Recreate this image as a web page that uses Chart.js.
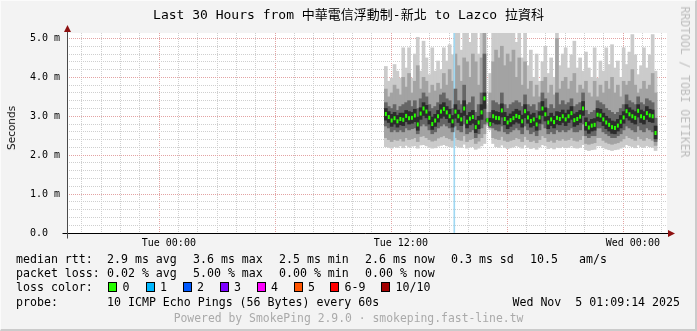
<!DOCTYPE html>
<html>
<head>
<meta charset="utf-8">
<title>Last 30 Hours from 中華電信浮動制-新北 to Lazco 拉資科</title>
<script src="https://cdn.jsdelivr.net/npm/chart.js@4.4.1/dist/chart.umd.min.js"></script>
<style>
  html, body { margin: 0; padding: 0; }
  body { width: 697px; height: 331px; overflow: hidden; background: #f3f3f3; }
  #wrap { position: relative; width: 697px; height: 331px; }
  #frame { position: absolute; left: 0; top: 0; width: 697px; height: 331px; box-sizing: border-box;
           border-right: 2px solid #cbcbcb; border-bottom: 2px solid #cbcbcb;
           border-top: 1px solid #fbfbfb; border-left: 1px solid #fbfbfb; pointer-events: none; }
  canvas { position: absolute; left: 0; top: 0; }
  .t { position: absolute; white-space: pre; font-family: "DejaVu Sans Mono", monospace;
       font-size: 11.6px; line-height: 14px; color: #000; }
  #title { left: 0; width: 697px; top: 7px; text-align: center; font-size: 13px; line-height: 16px;
           font-family: "DejaVu Sans Mono", "Noto Sans CJK TC", monospace; }
  #ylab { left: 10.5px; top: 127.5px; transform: translate(-50%, -50%) rotate(-90deg);
          font-family: "DejaVu Sans", sans-serif; font-size: 10.5px; line-height: 12px; color: #111; }
  #side { left: 685px; top: 81.5px; transform: translate(-50%, -50%) rotate(90deg);
          font-size: 11.4px; color: #bdbdbd; }
  #footer { left: 0; width: 697px; top: 311px; text-align: center; color: #aaaaaa; font-size: 11.4px; }
  .box { position: absolute; top: 282px; width: 9px; height: 10px; box-sizing: border-box; border: 1px solid #000; }
</style>
</head>
<body>
<div id="wrap">
  <canvas id="smoke" width="697" height="331"></canvas>
  <div class="t" id="title">Last 30 Hours from 中華電信浮動制-新北 to Lazco 拉資科</div>
  <div class="t" id="ylab">Seconds</div>
  <div class="t" id="side">RRDTOOL / TOBI OETIKER</div>

  <div class="t" style="left:16px;top:252px">median rtt:</div>
  <div class="t" style="left:107px;top:252px">2.9 ms avg</div>
  <div class="t" style="left:193px;top:252px">3.6 ms max</div>
  <div class="t" style="left:279px;top:252px">2.5 ms min</div>
  <div class="t" style="left:365px;top:252px">2.6 ms now</div>
  <div class="t" style="left:451px;top:252px">0.3 ms sd</div>
  <div class="t" style="left:530px;top:252px">10.5</div>
  <div class="t" style="left:579px;top:252px">am/s</div>

  <div class="t" style="left:16px;top:266px">packet loss:</div>
  <div class="t" style="left:107px;top:266px">0.02 % avg</div>
  <div class="t" style="left:193px;top:266px">5.00 % max</div>
  <div class="t" style="left:279px;top:266px">0.00 % min</div>
  <div class="t" style="left:365px;top:266px">0.00 % now</div>

  <div class="t" style="left:16px;top:280px">loss color:</div>
  <div id="lossLegend"></div>

  <div class="t" style="left:16px;top:295px">probe:</div>
  <div class="t" style="left:107px;top:295px">10 ICMP Echo Pings (56 Bytes) every 60s</div>
  <div class="t" style="right:17px;top:295px">Wed Nov  5 01:09:14 2025</div>

  <div class="t" id="footer">Powered by SmokePing 2.9.0 · smokeping.fast-line.tw</div>
  <div id="frame"></div>
</div>
<script>
// samples: hours after Tue 00:00, one every 9 minutes
const sampleStartHour = 11.225;
const sampleStepHour = 0.15;

// rtt in ms
const medianRtt = [
  3.06, 2.98, 2.89, 2.95, 2.87, 2.93, 2.91, 3.01, 2.95, 2.96,
  3.02, 2.79, 3.07, 3.20, 3.12, 2.96, 2.80, 2.89, 3.00, 3.12,
  3.19, 3.10, 3.00, 2.87, 3.12, 3.00, 2.92, 3.20, 2.86, 2.94,
  2.98, 2.72, 2.84, 3.10, 3.46, 2.90, 2.80, 3.00, 2.96, 2.95,
  3.15, 2.93, 2.84, 2.90, 2.95, 3.01, 2.98, 2.87, 3.13, 2.97,
  2.88, 2.92, 2.79, 2.97, 3.20, 3.05, 2.84, 2.92, 2.85, 2.96,
  2.93, 3.00, 2.92, 3.00, 3.08, 2.90, 2.93, 2.99, 3.20, 2.80,
  2.71, 2.76, 2.78, 3.04, 3.02, 2.92, 2.84, 2.78, 2.72, 2.70,
  2.76, 2.86, 2.97, 3.13, 3.05, 3.00, 2.96, 3.14, 3.00, 2.96,
  3.08, 3.02, 3.00, 2.57
];
const smokeMax = [
  4.28, 3.90, 3.98, 4.33, 4.16, 3.98, 4.76, 4.24, 4.76, 3.98,
  4.60, 5.03, 4.16, 4.93, 4.50, 4.07, 4.76, 4.16, 4.42, 4.20,
  4.76, 4.42, 4.84, 4.58, 5.30, 5.30, 4.70, 5.30, 5.30, 4.90,
  5.30, 5.30, 4.60, 5.30, 5.30, 3.30, 4.10, 5.30, 5.30, 5.30,
  5.30, 5.30, 5.30, 5.30, 5.30, 4.90, 5.30, 4.50, 5.30, 4.30,
  4.70, 4.00, 4.60, 3.90, 4.40, 4.80, 4.10, 4.50, 4.00, 5.30,
  4.30, 4.60, 4.76, 4.24, 4.58, 4.93, 4.24, 4.50, 4.16, 4.65,
  4.24, 4.00, 4.76, 3.98, 4.42, 4.16, 4.76, 4.33, 4.84, 4.24,
  4.42, 4.00, 4.76, 4.33, 4.65, 5.10, 4.58, 4.07, 4.30, 4.76,
  4.24, 4.58, 5.10, 4.16
];
const smokeHigh = [
  3.70, 3.50, 3.60, 3.80, 3.70, 3.55, 4.00, 3.75, 4.10, 3.60,
  3.90, 4.30, 3.70, 4.00, 3.90, 3.60, 3.80, 3.65, 3.85, 3.70,
  4.10, 3.80, 4.20, 3.90, 4.60, 4.30, 3.90, 4.50, 4.40, 4.00,
  4.60, 4.40, 3.80, 4.50, 5.20, 3.10, 3.60, 4.40, 4.70, 4.50,
  4.80, 4.30, 4.60, 4.40, 4.70, 4.00, 4.50, 3.80, 4.40, 3.70,
  3.90, 3.50, 3.80, 3.50, 3.90, 4.00, 3.60, 3.80, 3.55, 5.00,
  3.70, 3.90, 4.00, 3.70, 3.90, 4.10, 3.60, 3.80, 3.70, 3.90,
  3.60, 3.50, 3.90, 3.50, 3.80, 3.60, 3.90, 3.70, 4.00, 3.60,
  3.80, 3.50, 3.90, 3.80, 3.90, 4.20, 3.80, 3.60, 3.70, 3.90,
  3.70, 3.80, 4.10, 3.60
];
const smokeInnerHigh = [
  3.35, 3.25, 3.20, 3.30, 3.15, 3.25, 3.30, 3.35, 3.40, 3.25,
  3.40, 3.20, 3.45, 3.60, 3.50, 3.30, 3.20, 3.25, 3.35, 3.55,
  3.60, 3.45, 3.40, 3.20, 3.70, 3.40, 3.30, 3.80, 3.30, 3.35,
  3.50, 3.10, 3.30, 3.60, 4.60, 2.95, 3.10, 3.40, 3.35, 3.30,
  3.60, 3.30, 3.20, 3.30, 3.35, 3.40, 3.35, 3.25, 3.55, 3.30,
  3.25, 3.30, 3.15, 3.35, 3.60, 3.45, 3.20, 3.30, 3.20, 3.60,
  3.30, 3.40, 3.30, 3.35, 3.45, 3.25, 3.30, 3.35, 3.60, 3.15,
  3.05, 3.10, 3.15, 3.40, 3.35, 3.30, 3.20, 3.15, 3.10, 3.05,
  3.10, 3.20, 3.30, 3.55, 3.40, 3.35, 3.30, 3.50, 3.35, 3.30,
  3.45, 3.40, 3.35, 2.95
];
const smokeCoreHigh = [
  3.20, 3.12, 3.05, 3.10, 3.02, 3.08, 3.08, 3.15, 3.12, 3.10,
  3.18, 2.98, 3.22, 3.35, 3.28, 3.12, 2.98, 3.05, 3.15, 3.30,
  3.35, 3.25, 3.18, 3.02, 3.30, 3.16, 3.08, 3.40, 3.02, 3.10,
  3.15, 2.90, 3.00, 3.30, 3.60, 2.93, 2.95, 3.15, 3.12, 3.10,
  3.32, 3.10, 3.00, 3.06, 3.12, 3.18, 3.14, 3.03, 3.30, 3.12,
  3.04, 3.08, 2.95, 3.12, 3.38, 3.22, 3.00, 3.08, 3.00, 3.12,
  3.10, 3.16, 3.08, 3.16, 3.25, 3.06, 3.10, 3.15, 3.38, 2.96,
  2.86, 2.92, 2.94, 3.20, 3.18, 3.08, 3.00, 2.94, 2.88, 2.86,
  2.92, 3.02, 3.12, 3.30, 3.22, 3.16, 3.12, 3.30, 3.16, 3.12,
  3.25, 3.18, 3.16, 2.75
];
const smokeCoreLow = [
  2.90, 2.84, 2.74, 2.80, 2.72, 2.78, 2.76, 2.86, 2.80, 2.82,
  2.86, 2.64, 2.92, 3.02, 2.96, 2.80, 2.66, 2.74, 2.85, 2.95,
  3.00, 2.94, 2.84, 2.72, 2.95, 2.84, 2.76, 3.02, 2.70, 2.78,
  2.82, 2.58, 2.68, 2.92, 3.20, 2.87, 2.76, 2.84, 2.80, 2.80,
  2.98, 2.78, 2.68, 2.74, 2.80, 2.85, 2.82, 2.72, 2.96, 2.82,
  2.72, 2.76, 2.64, 2.82, 3.02, 2.88, 2.68, 2.76, 2.70, 2.80,
  2.78, 2.84, 2.76, 2.84, 2.92, 2.74, 2.78, 2.84, 3.02, 2.64,
  2.56, 2.62, 2.64, 2.88, 2.86, 2.76, 2.68, 2.62, 2.56, 2.55,
  2.62, 2.70, 2.82, 2.96, 2.90, 2.84, 2.80, 2.98, 2.84, 2.80,
  2.92, 2.86, 2.84, 2.42
];
const smokeInnerLow = [
  2.75, 2.70, 2.60, 2.65, 2.60, 2.65, 2.60, 2.70, 2.65, 2.68,
  2.70, 2.55, 2.75, 2.80, 2.75, 2.65, 2.55, 2.60, 2.70, 2.75,
  2.80, 2.75, 2.70, 2.60, 2.75, 2.65, 2.60, 2.80, 2.55, 2.60,
  2.65, 2.45, 2.55, 2.70, 2.80, 2.85, 2.72, 2.70, 2.65, 2.62,
  2.75, 2.60, 2.55, 2.60, 2.65, 2.70, 2.65, 2.55, 2.75, 2.65,
  2.55, 2.60, 2.50, 2.65, 2.80, 2.70, 2.55, 2.60, 2.55, 2.65,
  2.60, 2.65, 2.60, 2.65, 2.70, 2.60, 2.60, 2.65, 2.80, 2.50,
  2.45, 2.50, 2.50, 2.70, 2.70, 2.60, 2.55, 2.50, 2.45, 2.45,
  2.50, 2.55, 2.65, 2.75, 2.70, 2.65, 2.60, 2.75, 2.65, 2.60,
  2.70, 2.65, 2.60, 2.35
];
const smokeLow = [
  2.45, 2.40, 2.35, 2.40, 2.38, 2.42, 2.36, 2.45, 2.40, 2.42,
  2.45, 2.35, 2.48, 2.50, 2.45, 2.40, 2.36, 2.38, 2.44, 2.47,
  2.50, 2.45, 2.42, 2.38, 2.45, 2.40, 2.38, 2.50, 2.35, 2.40,
  2.42, 2.30, 2.36, 2.45, 2.55, 2.80, 2.70, 2.45, 2.42, 2.40,
  2.48, 2.38, 2.35, 2.38, 2.40, 2.45, 2.42, 2.35, 2.48, 2.40,
  2.35, 2.38, 2.32, 2.40, 2.50, 2.45, 2.35, 2.38, 2.33, 2.40,
  2.38, 2.42, 2.38, 2.40, 2.45, 2.38, 2.36, 2.40, 2.50, 2.30,
  2.28, 2.30, 2.32, 2.45, 2.45, 2.38, 2.33, 2.30, 2.28, 2.30,
  2.32, 2.36, 2.42, 2.50, 2.45, 2.42, 2.38, 2.48, 2.42, 2.38,
  2.45, 2.42, 2.38, 2.25
];
const smokeMin = [
  2.22, 2.20, 2.18, 2.22, 2.20, 2.24, 2.19, 2.25, 2.21, 2.23,
  2.24, 2.18, 2.26, 2.27, 2.24, 2.20, 2.18, 2.19, 2.23, 2.25,
  2.27, 2.24, 2.22, 2.20, 2.24, 2.21, 2.20, 2.28, 2.18, 2.21,
  2.22, 2.15, 2.18, 2.24, 2.30, 2.75, 2.65, 2.30, 2.22, 2.20,
  2.26, 2.20, 2.17, 2.19, 2.21, 2.24, 2.22, 2.18, 2.26, 2.20,
  2.17, 2.19, 2.15, 2.21, 2.27, 2.24, 2.17, 2.19, 2.16, 2.20,
  2.19, 2.22, 2.19, 2.20, 2.24, 2.19, 2.18, 2.20, 2.27, 2.14,
  2.12, 2.14, 2.15, 2.24, 2.24, 2.19, 2.16, 2.14, 2.12, 2.14,
  2.15, 2.18, 2.21, 2.27, 2.24, 2.22, 2.19, 2.26, 2.22, 2.20,
  2.24, 2.22, 2.20, 2.12
];

// one sample lost 1 of 10 pings
const lossEventHour = 14.765;

const xGridHours = [];
for (let h = -4; h <= 25; h++) xGridHours.push(h);
const xLabelHours = [0, 12, 24];
const xLabelText = ['Tue 00:00', 'Tue 12:00', 'Wed 00:00'];
const yGridValues = [];
for (let k = 0; k <= 25; k++) yGridValues.push(k / 5);
const yTickLabels = ['0.0  ', '1.0 m', '2.0 m', '3.0 m', '4.0 m', '5.0 m'];

const lossLabels = ['0', '1', '2', '3', '4', '5', '6-9', '10/10'];
const lossColors = ['#26ff00', '#00b8ff', '#0059ff', '#7e00ff', '#ff00ff', '#ff5500', '#ff0000', '#a10000'];
const lossBoxX = [108, 145.5, 182.5, 219.5, 256.5, 293.5, 330, 381];

const majorGrid = '#e3a3a3';
const minorGrid = '#cfcfcf';

function sampleHours() {
  return medianRtt.map((v, i) => sampleStartHour + i * sampleStepHour);
}

function band(lo, hi) {
  const hours = sampleHours();
  return hours.map((h, i) => ({ x: h, y: [lo[i], hi[i]] }));
}

function buildLossLegend() {
  const holder = document.getElementById('lossLegend');
  lossLabels.forEach((lab, i) => {
    const b = document.createElement('div');
    b.className = 'box';
    b.style.left = lossBoxX[i] + 'px';
    b.style.background = lossColors[i];
    holder.appendChild(b);
    const t = document.createElement('div');
    t.className = 't';
    t.style.left = (lossBoxX[i] + 14.5) + 'px';
    t.style.top = '280px';
    t.textContent = lab;
    holder.appendChild(t);
  });
}

const plotFrame = {
  id: 'plotFrame',
  beforeDraw(chart) {
    const { ctx, chartArea: a } = chart;
    ctx.save();
    ctx.fillStyle = '#ffffff';
    ctx.fillRect(a.left, a.top, a.right - a.left, a.bottom - a.top);
    ctx.restore();
  },
  afterDraw(chart) {
    const { ctx, chartArea: a } = chart;
    const x0 = Math.round(a.left) + 0.5;
    const y0 = Math.round(a.bottom) + 0.5;
    ctx.save();
    ctx.lineWidth = 1;
    ctx.strokeStyle = '#000000';
    ctx.beginPath();
    ctx.moveTo(x0 - 5, y0);
    ctx.lineTo(a.right + 2, y0);
    ctx.stroke();
    ctx.strokeStyle = '#4a4a4a';
    ctx.beginPath();
    ctx.moveTo(x0, y0 + 5);
    ctx.lineTo(x0, a.top - 3);
    ctx.stroke();
    ctx.fillStyle = '#8e1010';
    ctx.beginPath();
    ctx.moveTo(a.right + 8, y0);
    ctx.lineTo(a.right + 1, y0 - 3.5);
    ctx.lineTo(a.right + 1, y0 + 3.5);
    ctx.fill();
    ctx.beginPath();
    ctx.moveTo(x0, a.top - 8);
    ctx.lineTo(x0 - 3.5, a.top - 1);
    ctx.lineTo(x0 + 3.5, a.top - 1);
    ctx.fill();
    ctx.restore();
  }
};

function drawSmoke() {
  const ctx = document.getElementById('smoke').getContext('2d');
  const smokeBar = { type: 'bar', grouped: false, barThickness: 3, borderWidth: 0 };

  new Chart(ctx, {
    data: {
      datasets: [
        { ...smokeBar, label: 'loss', data: [{ x: lossEventHour, y: [0, 6] }], barThickness: 1,
          backgroundColor: '#9fd8f2', order: 3 },
        { type: 'line', label: 'median rtt', data: sampleHours().map((h, i) => ({ x: h, y: medianRtt[i] })),
          showLine: false, pointStyle: 'line', rotation: 90, pointRadius: 2, borderWidth: 2,
          borderColor: lossColors[0], backgroundColor: lossColors[0], order: 0 },
        { ...smokeBar, label: 'core', data: band(smokeCoreLow, smokeCoreHigh), backgroundColor: '#2c2c2c', order: 1 },
        { ...smokeBar, label: 'inner', data: band(smokeInnerLow, smokeInnerHigh), backgroundColor: '#666666', order: 2 },
        { ...smokeBar, label: 'mid', data: band(smokeLow, smokeHigh), backgroundColor: '#a3a3a3', order: 4 },
        { ...smokeBar, label: 'outer', data: band(smokeMin, smokeMax), backgroundColor: '#cbcbcb', order: 5 }
      ]
    },
    options: {
      responsive: false,
      animation: false,
      events: [],
      layout: { padding: { left: 0, right: 30, top: 33, bottom: 0 } },
      plugins: { legend: { display: false }, tooltip: { enabled: false }, title: { display: false } },
      scales: {
        x: {
          type: 'linear',
          min: -4.75,
          max: 25.25,
          afterFit: s => { s.height = 98; },
          afterBuildTicks: s => { s.ticks = xGridHours.map(v => ({ value: v })); },
          grid: {
            drawTicks: false,
            color: c => (c.tick && c.tick.value % 6 === 0) ? majorGrid : minorGrid
          },
          border: { display: false, dash: [1, 1] },
          ticks: {
            autoSkip: false,
            maxRotation: 0,
            padding: 4,
            color: '#000',
            font: { family: 'DejaVu Sans Mono', size: 10 },
            callback: v => {
              const k = xLabelHours.indexOf(v);
              return k >= 0 ? xLabelText[k] : '';
            }
          }
        },
        y: {
          min: 0,
          max: 5.14,
          afterFit: s => { s.width = 67; },
          afterBuildTicks: s => { s.ticks = yGridValues.map(v => ({ value: v })); },
          grid: {
            drawTicks: false,
            color: c => (c.tick && Number.isInteger(c.tick.value)) ? majorGrid : minorGrid
          },
          border: { display: false, dash: [1, 1] },
          ticks: {
            autoSkip: false,
            padding: 7,
            color: '#000',
            font: { family: 'DejaVu Sans Mono', size: 10 },
            callback: v => Number.isInteger(v) ? yTickLabels[v] : ''
          }
        }
      }
    },
    plugins: [plotFrame]
  });
}

buildLossLegend();
drawSmoke();
</script>
</body>
</html>
